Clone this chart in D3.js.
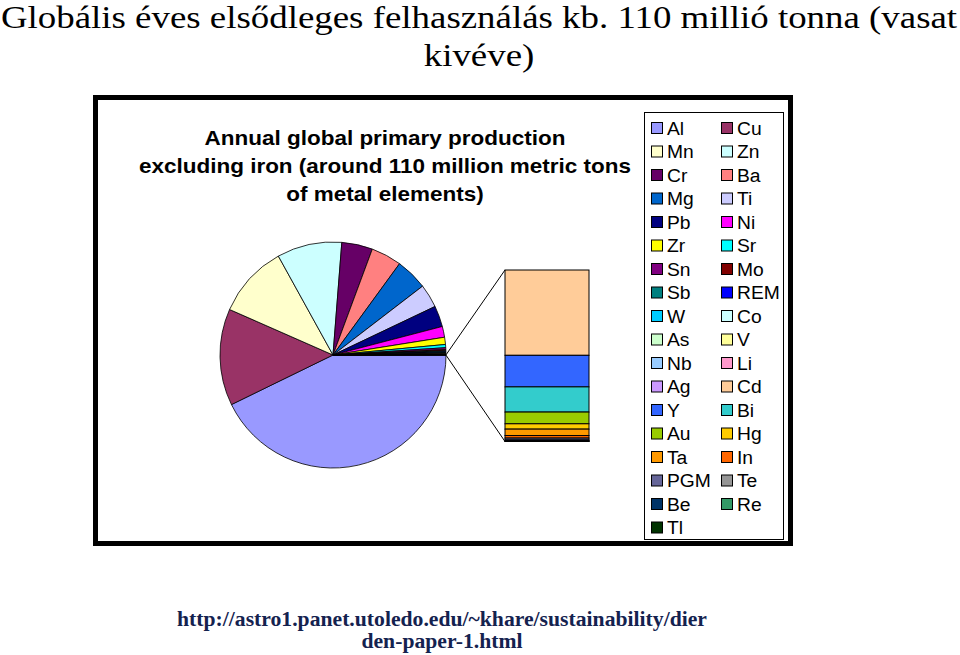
<!DOCTYPE html>
<html><head><meta charset="utf-8">
<script src="https://cdn.jsdelivr.net/npm/d3@7"></script>
<style>body{margin:0;background:#fff}svg{display:block}</style>
</head><body>
<script>
// ---- data (thousand metric tons) ----
const pieNames  = ["Al","Cu","Mn","Zn","Cr","Ba","Mg","Ti","Pb","Ni","Zr","Sr","Sn","Mo","Sb","REM","W","Co","As","V","Nb","Li","Ag"];
const pieValues = [47000,15200,11400,10200,4850,4800,5000,3700,3300,1700,1130,500,300,180,150,120,90,60,50,60,60,25,20];
const barNames  = ["Cd","Y","Bi","Au","Hg","Ta","In","PGM","Te","Be","Re","Tl"];
const barValues = [20,7.4,5.9,2.75,1.25,1.5,0.6,0.45,0.15,0.13,0.05,0.02];
const allNames  = pieNames.concat(barNames);
const colors    = ["#9999FF","#993366","#FFFFCC","#CCFFFF","#660066","#FF8080","#0066CC","#CCCCFF","#000080","#FF00FF","#FFFF00","#00FFFF","#800080","#800000","#008080","#0000FF","#00CCFF","#CCFFFF","#CCFFCC","#FFFF99","#99CCFF","#FF99CC","#CC99FF","#FFCC99","#3366FF","#33CCCC","#99CC00","#FFCC00","#FF9900","#FF6600","#666699","#969696","#003366","#339966","#003300"];
const titleLines = ["Globális éves elsődleges felhasználás kb. 110 millió tonna (vasat","kivéve)"];
const chartTitleLines = ["Annual global primary production","excluding iron (around 110 million metric tons","of metal elements)"];
const sourceLines = ["http://astro1.panet.utoledo.edu/~khare/sustainability/dier","den-paper-1.html"];

const W = 960, H = 655;
const svg = d3.select("body").append("svg").attr("width", W).attr("height", H);
const color = d3.scaleOrdinal().domain(allNames).range(colors);

// main title
svg.append("g").attr("transform","translate(479,0) scale(1.19,1)")
  .selectAll("text").data(titleLines).join("text")
  .attr("x", 0).attr("y", (d,i)=>28 + i*38)
  .attr("text-anchor","middle")
  .style("font-family","'Liberation Serif','Times New Roman',serif")
  .style("font-size","31px").attr("fill","#000").text(d=>d);

// chart frame
svg.append("rect").attr("x",95.5).attr("y",97.5).attr("width",695).attr("height",446)
  .attr("fill","#fff").attr("stroke","#000").attr("stroke-width",5);
svg.append("line").attr("x1",791).attr("x2",791).attr("y1",96).attr("y2",546)
  .attr("stroke","#000").attr("stroke-width",3);

// chart title
svg.append("g").attr("transform","translate(385,0) scale(1.097,1)")
  .selectAll("text").data(chartTitleLines).join("text")
  .attr("x", 0).attr("y", (d,i)=>145 + i*28)
  .attr("text-anchor","middle")
  .style("font-family","'Liberation Sans',Arial,sans-serif")
  .style("font-weight","bold").style("font-size","20.5px").attr("fill","#000").text(d=>d);

// pie
const cx = 333, cy = 355, r = 113;
const otherTotal = d3.sum(barValues);
const pieData = pieNames.map((n,i)=>({name:n, value:pieValues[i]})).concat([{name:"Other", value:otherTotal}]);
const total = d3.sum(pieData, d=>d.value);
const otherAng = otherTotal/total*2*Math.PI;
const start = Math.PI/2 + otherAng/2;
const pie = d3.pie().sort(null).value(d=>d.value).startAngle(start).endAngle(start + 2*Math.PI);
const arcs = pie(pieData);
const arc = d3.arc().innerRadius(0).outerRadius(r);
const gp = svg.append("g").attr("transform",`translate(${cx},${cy})`);
gp.selectAll("path").data(arcs).join("path")
  .attr("d", arc)
  .attr("fill", d=> d.data.name==="Other" ? "#000" : color(d.data.name))
  .attr("stroke","#000").attr("stroke-width",0.8).attr("stroke-linejoin","round");

// bar of pie
const barX = 505, barW = 84;
const yBar = d3.scaleLinear().domain([0, otherTotal]).range([270, 441.5]);
let acc = 0;
const barData = barNames.map((n,i)=>{ const o={name:n, y0:acc, y1:acc+barValues[i]}; acc+=barValues[i]; return o;});
svg.append("g").selectAll("rect").data(barData).join("rect")
  .attr("x", barX).attr("width", barW)
  .attr("y", d=>yBar(d.y0)).attr("height", d=>yBar(d.y1)-yBar(d.y0))
  .attr("fill", d=>color(d.name)).attr("stroke","#000").attr("stroke-width",1);

// connector lines
const oArc = arcs[arcs.length-1];
const pt = a => [cx + r*Math.sin(a), cy - r*Math.cos(a)];
const p1 = pt(oArc.startAngle), p2 = pt(oArc.endAngle);
svg.append("line").attr("x1",p1[0]).attr("y1",p1[1]).attr("x2",barX).attr("y2",yBar(0))
  .attr("stroke","#000").attr("stroke-width",1);
svg.append("line").attr("x1",p2[0]).attr("y1",p2[1]).attr("x2",barX).attr("y2",yBar(otherTotal))
  .attr("stroke","#000").attr("stroke-width",1);

// legend
svg.append("rect").attr("x",644.5).attr("y",112.5).attr("width",139).attr("height",427)
  .attr("fill","#fff").attr("stroke","#000").attr("stroke-width",1);
const lg = svg.append("g").selectAll("g").data(allNames).join("g")
  .attr("transform",(d,i)=>`translate(${651 + (i%2)*70},${122 + Math.floor(i/2)*23.5})`);
lg.append("rect").attr("x",0.5).attr("y",0.5).attr("width",11).attr("height",11)
  .attr("fill", d=>color(d)).attr("stroke","#000").attr("stroke-width",1);
lg.append("text").attr("transform","translate(16,12.5) scale(1.07,1)")
  .style("font-family","'Liberation Sans',Arial,sans-serif").style("font-size","18px")
  .attr("fill","#000").text(d=>d);

// source
svg.append("g").attr("transform","translate(442,0) scale(1.084,1)")
  .selectAll("text").data(sourceLines).join("text")
  .attr("x", 0).attr("y", (d,i)=>626 + i*22)
  .attr("text-anchor","middle")
  .style("font-family","'Liberation Serif','Times New Roman',serif")
  .style("font-weight","bold").style("font-size","20px").attr("fill","#14224f").text(d=>d);
</script>
</body></html>
